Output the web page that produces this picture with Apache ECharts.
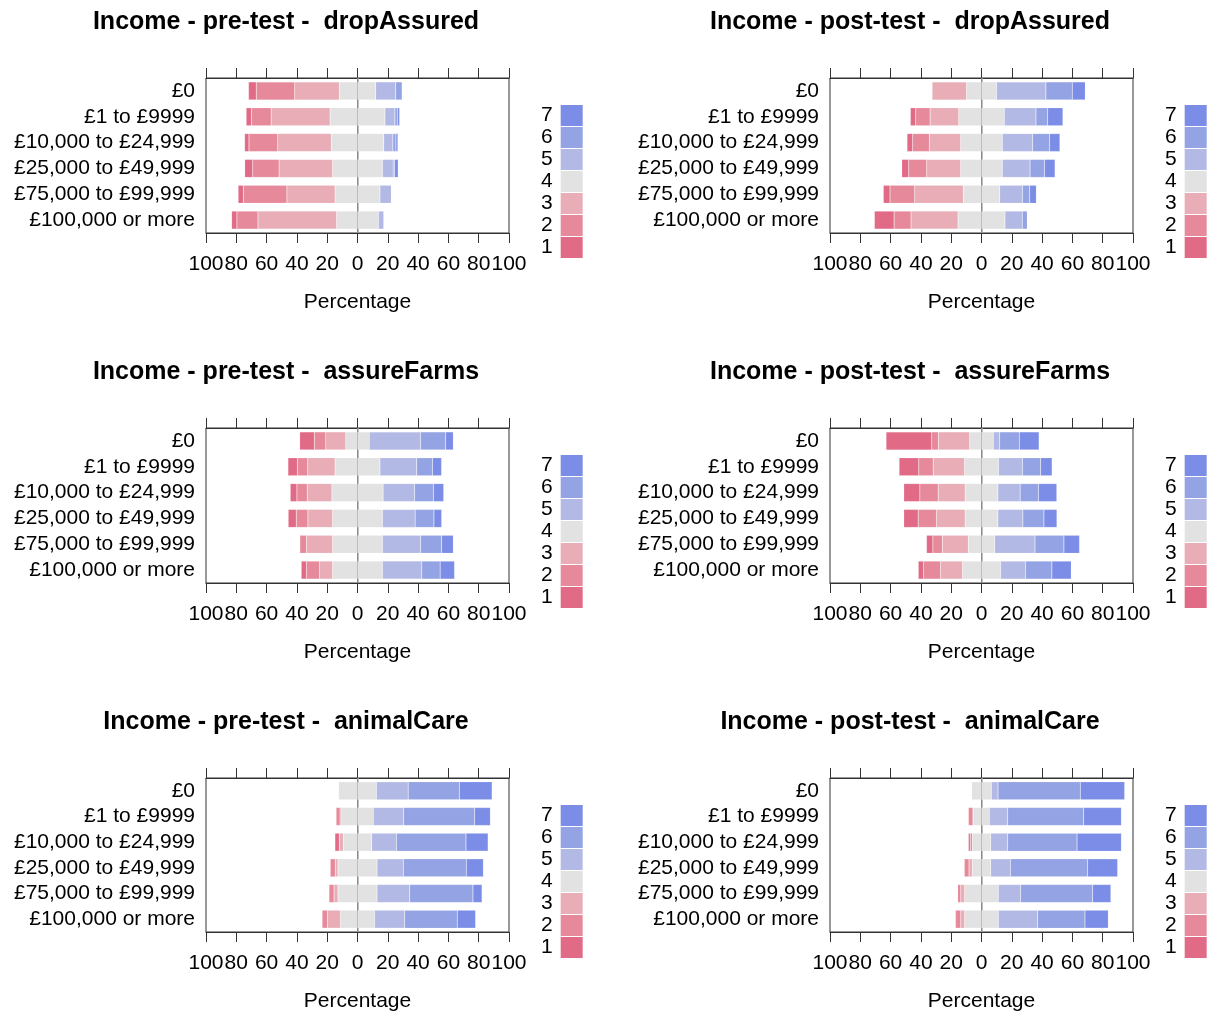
<!DOCTYPE html>
<html>
<head>
<meta charset="utf-8">
<script src="https://cdn.jsdelivr.net/npm/echarts@6/dist/echarts.min.js"></script>
<style>
html,body{margin:0;padding:0;background:#fff;}
#chart{width:1209px;height:1013px;}
</style>
</head>
<body>
<div id="chart"></div>
<script>
// ---- data ----
const categories = ['£0', '£1 to £9999', '£10,000 to £24,999', '£25,000 to £49,999', '£75,000 to £99,999', '£100,000 or more'];
const levels = ['1', '2', '3', '4', '5', '6', '7'];
const xTicks = [-100, -80, -60, -40, -20, 0, 20, 40, 60, 80, 100];

// each row: percentage of answers at levels 1..7
const preDropAssured = [
  [5.1, 25.4, 29.4, 24.1, 13.2, 4.2, 0],
  [3.5, 13.0, 38.9, 36.2, 6.6, 1.6, 1.5],
  [2.9, 19.0, 35.3, 34.7, 6.0, 2.0, 1.3],
  [5.3, 17.4, 35.3, 32.9, 7.1, 1.0, 2.3],
  [3.5, 28.7, 31.8, 29.6, 7.5, 0, 0],
  [3.5, 13.9, 51.9, 27.6, 3.5, 0, 0]
];
const postDropAssured = [
  [0, 0, 22.7, 19.8, 32.6, 17.4, 8.6],
  [3.5, 9.5, 18.9, 30.1, 20.9, 7.7, 10.1],
  [3.7, 11.0, 20.7, 27.5, 20.0, 11.2, 6.8],
  [4.6, 11.9, 22.4, 27.5, 18.3, 9.5, 7.0],
  [4.4, 16.3, 32.1, 24.0, 15.0, 4.8, 4.4],
  [13.0, 11.2, 31.0, 31.0, 11.4, 3.3, 0]
];
const preAssureFarms = [
  [9.7, 7.5, 13.2, 15.5, 33.8, 16.6, 5.1],
  [6.2, 6.8, 18.1, 29.6, 24.3, 10.4, 6.0],
  [4.4, 6.8, 16.3, 33.8, 20.8, 12.4, 6.8],
  [5.3, 7.7, 16.3, 32.9, 21.6, 12.4, 5.1],
  [0, 4.4, 17.2, 32.9, 25.2, 13.9, 7.7],
  [3.5, 8.6, 8.6, 32.9, 26.0, 12.1, 9.5]
];
const postAssureFarms = [
  [30.1, 4.4, 20.7, 15.6, 4.2, 13.0, 13.0],
  [13.0, 9.5, 20.7, 22.4, 15.8, 12.1, 7.5],
  [10.6, 12.1, 17.8, 21.6, 14.7, 12.1, 12.1],
  [9.5, 12.1, 18.9, 21.6, 16.5, 13.9, 8.6],
  [4.2, 6.2, 17.2, 17.4, 26.6, 19.1, 10.3],
  [3.5, 11.2, 14.5, 25.1, 16.5, 17.4, 12.8]
];
const preAnimalCare = [
  [0, 0, 0, 24.9, 21.0, 33.8, 21.6],
  [0, 2.6, 1.1, 20.8, 20.1, 46.8, 10.4],
  [2.9, 0, 2.6, 18.8, 16.3, 45.9, 14.6],
  [0, 3.3, 1.8, 25.8, 17.4, 41.5, 11.3],
  [0, 3.3, 2.6, 25.8, 21.6, 41.7, 6.0],
  [0, 3.5, 8.6, 22.5, 19.9, 34.7, 12.1]
];
const postAnimalCare = [
  [0, 0, 0, 13.0, 4.4, 54.3, 29.3],
  [0, 3.0, 0.5, 10.3, 12.1, 50.2, 24.9],
  [1.2, 1.4, 0, 12.1, 11.2, 45.8, 29.3],
  [0, 3.1, 2.2, 12.1, 13.0, 51.0, 19.8],
  [0, 2.0, 2.6, 22.2, 14.7, 47.5, 12.1],
  [0, 3.5, 2.6, 22.2, 26.0, 31.2, 15.4]
];
const panelTitles = [
  'Income - pre-test -  dropAssured', 'Income - post-test -  dropAssured',
  'Income - pre-test -  assureFarms', 'Income - post-test -  assureFarms',
  'Income - pre-test -  animalCare', 'Income - post-test -  animalCare'
];
const panelData = [preDropAssured, postDropAssured, preAssureFarms, postAssureFarms, preAnimalCare, postAnimalCare];

// ---- styles ----
const levelColors = ['#e16a87', '#e6899a', '#e8adb6', '#e2e2e2', '#b3b9e5', '#94a3e3', '#7b8de6'];
const FONT = '"Liberation Sans", Arial, Helvetica, sans-serif';
const colLeft = [206, 830];
const colTitleX = [281, 905];
const colLegendX = [541, 1165];
const rowOffset = 350;

const chart = echarts.init(document.getElementById('chart'), null, {renderer: 'canvas'});

const option = {
  animation: false,
  backgroundColor: '#fff',
  textStyle: {fontFamily: FONT},
  title: [], grid: [], xAxis: [], yAxis: [], legend: [], series: []
};

panelData.forEach((rows, p) => {
  const col = p % 2, row = Math.floor(p / 2);
  const dy = row * rowOffset;
  option.title.push({
    text: panelTitles[p], left: colTitleX[col], top: 5 + dy, textAlign: 'center',
    textStyle: {fontFamily: FONT, fontSize: 25, fontWeight: 'bold', color: '#000'}
  });
  option.grid.push({
    left: colLeft[col], top: 78 + dy, width: 303, height: 155,
    show: true, borderColor: '#333', borderWidth: 1, backgroundColor: 'transparent'
  });
  const common = {
    type: 'value', gridIndex: p, min: -100, max: 100, interval: 20,
    axisLine: {show: true, onZero: false, lineStyle: {color: '#333', width: 1}},
    axisTick: {show: true, length: 10, lineStyle: {color: '#333', width: 1}},
    splitLine: {show: false}
  };
  option.xAxis.push(Object.assign({}, common, {
    position: 'bottom',
    axisLabel: {show: true, margin: 21, fontSize: 21, color: '#000', fontFamily: FONT,
      showMinLabel: true, showMaxLabel: true, formatter: v => String(Math.abs(v))},
    name: 'Percentage', nameLocation: 'middle', nameGap: 59,
    nameTextStyle: {fontSize: 21, color: '#000', fontFamily: FONT}
  }));
  option.xAxis.push(Object.assign({}, common, {
    position: 'top', axisLabel: {show: false}
  }));
  option.yAxis.push({
    type: 'category', gridIndex: p, data: categories, inverse: true,
    axisLine: {show: true, lineStyle: {color: '#333', width: 1}},
    axisTick: {show: false},
    axisLabel: {interval: 0, margin: 11, fontSize: 21, color: '#000', fontFamily: FONT}
  });
  option.legend.push({
    orient: 'vertical', left: colLegendX[col], top: 105 + dy, padding: 0,
    data: ['7', '6', '5', '4', '3', '2', '1'],
    icon: 'rect', itemWidth: 22, itemHeight: 21, itemGap: 1, align: 'right',
    selectedMode: false,
    itemStyle: {borderWidth: 0},
    textStyle: {fontSize: 21, color: '#000', fontFamily: FONT, padding: [0, 3, 0, 0]}
  });
  const xIdx = p * 2;
  // zero reference line (behind the bars)
  option.series.push({
    name: 'zero', type: 'line', xAxisIndex: xIdx, yAxisIndex: p, data: [], z: 1,
    markLine: {silent: true, symbol: 'none', z: 1, label: {show: false},
      lineStyle: {color: '#aaa', width: 1.5, type: 'solid'}, data: [{xAxis: 0}]}
  });
  const mk = (lvl, sign, half) => ({
    name: levels[lvl], type: 'bar', xAxisIndex: xIdx, yAxisIndex: p,
    stack: 'likert' + p, barWidth: 18, z: 3,
    itemStyle: {color: levelColors[lvl], borderColor: 'rgba(255,255,255,0.25)', borderWidth: 0.5},
    emphasis: {disabled: true},
    data: rows.map(r => {
      const v = half ? r[lvl] / 2 : r[lvl];
      return v === 0 ? null : sign * v;
    })
  });
  // negative side: neutral half then 3, 2, 1 outward
  option.series.push(mk(3, -1, true), mk(2, -1, false), mk(1, -1, false), mk(0, -1, false));
  // positive side: neutral half then 5, 6, 7 outward
  option.series.push(mk(3, 1, true), mk(4, 1, false), mk(5, 1, false), mk(6, 1, false));
});

chart.setOption(option);
</script>
</body>
</html>
